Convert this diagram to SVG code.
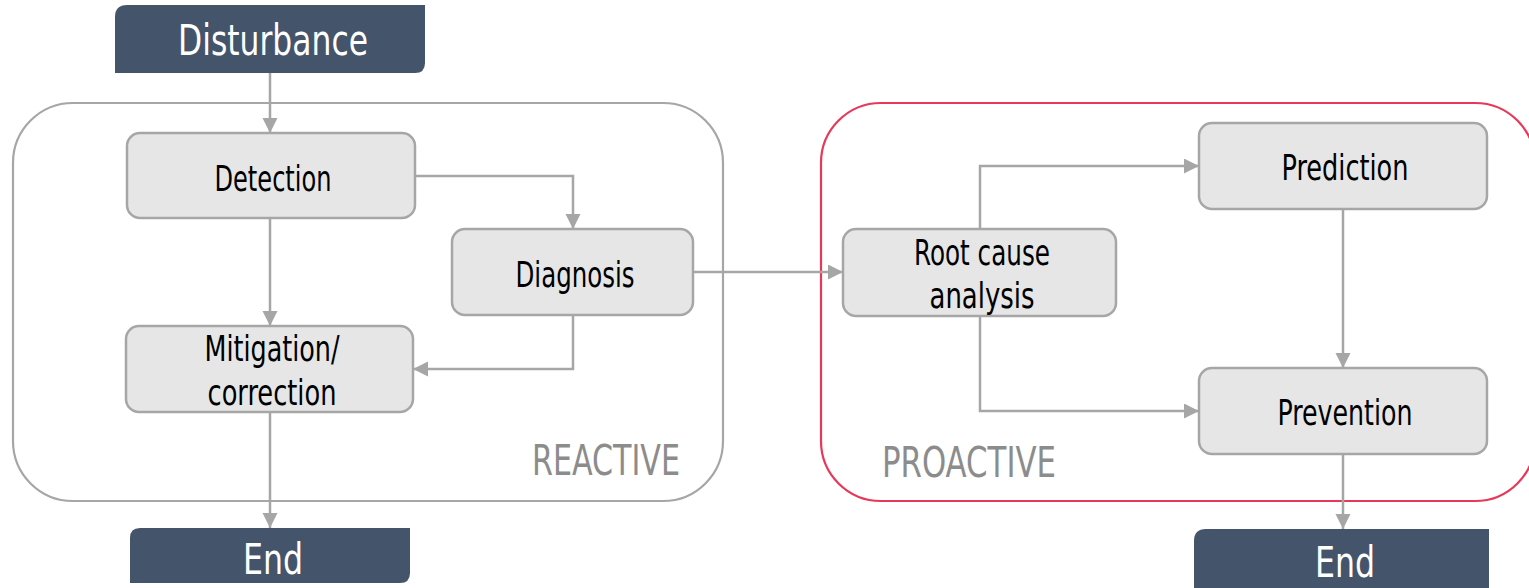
<svg xmlns="http://www.w3.org/2000/svg" width="1529" height="588" viewBox="0 0 1529 588">
<style>
text{font-family:"Liberation Sans Narrow","DejaVu Sans Condensed","Liberation Sans",sans-serif;text-anchor:middle}
.box{fill:#E6E6E6;stroke:#A6A6A6;stroke-width:2.5}
.lbl{font-size:36px;fill:#000}
.dark{fill:#44546A}
.dlbl{font-size:43px;fill:#fff}
.grp{fill:none;stroke-width:2.2}
.glbl{font-size:43px;fill:#8C8C8C}
.con{fill:none;stroke:#A6A6A6;stroke-width:2.5}
</style>
<defs>
<marker id="ah" markerUnits="userSpaceOnUse" markerWidth="16" markerHeight="16" refX="15" refY="7.5" orient="auto">
<path d="M0,0 L15,7.5 L0,15 z" fill="#A6A6A6"/>
</marker>
</defs>
<g id="reactive">
<rect class="grp" x="13" y="103" width="710" height="398" rx="60" stroke="#A6A6A6"/>
<text class="glbl" x="606" y="475" textLength="148" lengthAdjust="spacingAndGlyphs">REACTIVE</text>
</g>
<g id="proactive">
<rect class="grp" x="821" y="103" width="714" height="398" rx="60" stroke="#E8385A"/>
<text class="glbl" x="969" y="477" textLength="174" lengthAdjust="spacingAndGlyphs">PROACTIVE</text>
</g>
<g id="connectors">
<path class="con" d="M270,73 V133" marker-end="url(#ah)"/>
<path class="con" d="M270,218 V326" marker-end="url(#ah)"/>
<path class="con" d="M415,176 H573 V229" marker-end="url(#ah)"/>
<path class="con" d="M573,315 V369 H413" marker-end="url(#ah)"/>
<path class="con" d="M693,272 H843" marker-end="url(#ah)"/>
<path class="con" d="M980,229 V166 H1199" marker-end="url(#ah)"/>
<path class="con" d="M980,316 V411 H1199" marker-end="url(#ah)"/>
<path class="con" d="M1343,209 V368" marker-end="url(#ah)"/>
<path class="con" d="M1343,454 V529" marker-end="url(#ah)"/>
<path class="con" d="M270,412 V528" marker-end="url(#ah)"/>
</g>
<g id="disturbance">
<path class="dark" d="M127,5 H425 V63 Q425,73 415,73 H115 V17 Q115,5 127,5 z"/>
<text class="dlbl" x="273" y="55" textLength="190" lengthAdjust="spacingAndGlyphs">Disturbance</text>
</g>
<g id="detection">
<rect class="box" x="127" y="133" width="288" height="85" rx="13"/>
<text class="lbl" x="273" y="191" textLength="117" lengthAdjust="spacingAndGlyphs">Detection</text>
</g>
<g id="diagnosis">
<rect class="box" x="452" y="229" width="241" height="86" rx="13"/>
<text class="lbl" x="575" y="287" textLength="119" lengthAdjust="spacingAndGlyphs">Diagnosis</text>
</g>
<g id="mitigation">
<rect class="box" x="126" y="326" width="287" height="86" rx="13"/>
<text class="lbl" x="272" y="361" textLength="135" lengthAdjust="spacingAndGlyphs">Mitigation/</text>
<text class="lbl" x="272" y="405" textLength="129" lengthAdjust="spacingAndGlyphs">correction</text>
</g>
<g id="end-left">
<path class="dark" d="M140,528 H410 V573 Q410,583 400,583 H130 V538 Q130,528 140,528 z"/>
<text class="dlbl" x="273" y="574" textLength="60" lengthAdjust="spacingAndGlyphs">End</text>
</g>
<g id="root-cause">
<rect class="box" x="843" y="229" width="273" height="87" rx="13"/>
<text class="lbl" x="982" y="265" textLength="136" lengthAdjust="spacingAndGlyphs">Root cause</text>
<text class="lbl" x="982" y="308" textLength="105" lengthAdjust="spacingAndGlyphs">analysis</text>
</g>
<g id="prediction">
<rect class="box" x="1199" y="123" width="288" height="86" rx="13"/>
<text class="lbl" x="1345" y="180" textLength="127" lengthAdjust="spacingAndGlyphs">Prediction</text>
</g>
<g id="prevention">
<rect class="box" x="1199" y="368" width="288" height="86" rx="13"/>
<text class="lbl" x="1345" y="425" textLength="135" lengthAdjust="spacingAndGlyphs">Prevention</text>
</g>
<g id="end-right">
<path class="dark" d="M1206,529 H1489 V600 H1194 V541 Q1194,529 1206,529 z"/>
<text class="dlbl" x="1345" y="577" textLength="60" lengthAdjust="spacingAndGlyphs">End</text>
</g>
</svg>
